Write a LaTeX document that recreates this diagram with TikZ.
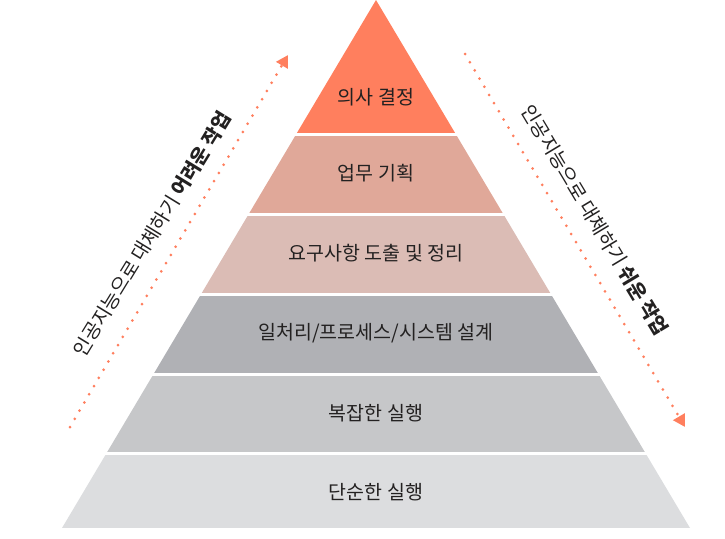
\documentclass[tikz,border=0pt]{standalone}
\usepackage{fontspec}
\setmainfont{Noto Sans CJK KR}
\usepackage{xcolor}
\usepackage{tikz}
\usetikzlibrary{arrows.meta}
\definecolor{coral}{RGB}{255,127,94}
\definecolor{salmon}{RGB}{224,168,153}
\definecolor{rose}{RGB}{219,188,181}
\definecolor{darkgrey}{RGB}{176,177,181}
\definecolor{midgrey}{RGB}{198,199,201}
\definecolor{lightgrey}{RGB}{220,221,223}
\definecolor{inkgrey}{RGB}{35,33,33}
\tikzstyle{levellabel} = [font=\fontsize{19.5}{22}\selectfont, text=inkgrey, inner sep=0pt]
\tikzstyle{sidenote} = [font=\fontsize{19.5}{22}\selectfont, text=inkgrey, inner sep=0pt]
\tikzstyle{dotarrow} = [draw=coral, line width=3pt, line cap=round, dash pattern=on 0pt off 9.5pt, -{Triangle[length=12pt, width=13pt]}]

\begin{document}
\begin{tikzpicture}[x=1pt, y=-1pt]
\useasboundingbox (0,0) rectangle (725,538);
\coordinate (apex) at (376,0);
\coordinate (baseleft) at (62,528);
\coordinate (baseright) at (690,528);

% pyramid levels
\begin{scope}
\clip (apex) -- (baseleft) -- (baseright) -- cycle;
\fill[coral] (0,0) rectangle (725,133);
\fill[salmon] (0,135.5) rectangle (725,213);
\fill[rose] (0,215.5) rectangle (725,293);
\fill[darkgrey] (0,295.5) rectangle (725,373);
\fill[midgrey] (0,375.5) rectangle (725,452);
\fill[lightgrey] (0,454.5) rectangle (725,528);
\end{scope}

\node[levellabel] (decision) at (376,97) {의사 결정};
\node[levellabel] (planning) at (376,173) {업무 기획};
\node[levellabel] (requirements) at (376,253) {요구사항 도출 및 정리};
\node[levellabel] (design) at (376,333) {일처리/프로세스/시스템 설계};
\node[levellabel] (complexwork) at (376,413) {복잡한 실행};
\node[levellabel] (simplework) at (376,492) {단순한 실행};

% side arrows
\coordinate (hardstart) at (70,427);
\coordinate (hardend) at (288,55);
\coordinate (easystart) at (465,54);
\coordinate (easyend) at (685,427);
\draw[dotarrow] (hardstart) -- (hardend);
\draw[dotarrow] (easystart) -- (easyend);

\node[sidenote, rotate=58.5] (hardnote) at (152,234) {인공지능으로 대체하기 \textbf{어려운 작업}};
\node[sidenote, rotate=-59] (easynote) at (595,220) {인공지능으로 대체하기 \textbf{쉬운 작업}};
\end{tikzpicture}
\end{document}
